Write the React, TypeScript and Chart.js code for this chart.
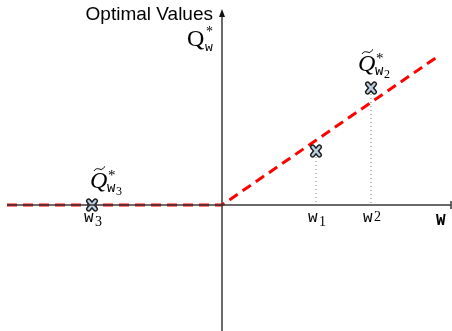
import React, { useEffect, useRef } from "react";
import { Chart, registerables } from "chart.js";

Chart.register(...registerables);

// Data (arbitrary units: w on x, optimal value Q on y)
const lineW = [-2.15, 0, 2.15];
const lineQ = [0, 0, 1.48];
const pointNames = ["w1", "w2", "w3"];
const pointW = [0.94, 1.49, -1.3];
const pointQ = [0.54, 1.17, 0];
const xRange = [-2.22, 2.3];
const yRange = [-1.26, 2.05];

function makeMarker(): HTMLCanvasElement {
  const c = document.createElement("canvas");
  c.width = 14;
  c.height = 14;
  const g = c.getContext("2d")!;
  const d = 3.4;
  const cx = 7, cy = 7;
  const path = () => {
    g.beginPath();
    g.moveTo(cx - d, cy - d - 0.6);
    g.lineTo(cx + d, cy + d + 0.6);
    g.moveTo(cx + d, cy - d - 0.6);
    g.lineTo(cx - d, cy + d + 0.6);
  };
  g.lineCap = "round";
  g.strokeStyle = "#1a1a1a";
  g.lineWidth = 5.2;
  path();
  g.stroke();
  g.strokeStyle = "#bcd0e2";
  g.lineWidth = 2.4;
  path();
  g.stroke();
  return c;
}

const annotate = {
  id: "annotate",
  afterDatasetsDraw(chart: any) {
    const ctx = chart.ctx as CanvasRenderingContext2D;
    const xs = chart.scales.x;
    const ys = chart.scales.y;
    const x0 = xs.getPixelForValue(0);
    const y0 = ys.getPixelForValue(0);
    ctx.save();
    // axes
    ctx.strokeStyle = "#3a3a3a";
    ctx.lineWidth = 1.5;
    ctx.beginPath();
    ctx.moveTo(7, y0);
    ctx.lineTo(451, y0);
    ctx.moveTo(451, y0 - 4);
    ctx.lineTo(451, y0 + 4);
    ctx.moveTo(x0, 331);
    ctx.lineTo(x0, 14);
    ctx.stroke();
    ctx.fillStyle = "#111";
    ctx.beginPath();
    ctx.moveTo(x0, 9);
    ctx.lineTo(x0 - 3, 17);
    ctx.lineTo(x0 + 3, 17);
    ctx.closePath();
    ctx.fill();

    // y axis title
    ctx.fillStyle = "#000";
    ctx.textBaseline = "alphabetic";
    ctx.textAlign = "right";
    ctx.font = '19px "Liberation Sans", Arial, sans-serif';
    ctx.fillText("Optimal Values", 213, 20);
    ctx.textAlign = "left";
    ctx.font = '24px "Liberation Serif", serif';
    ctx.fillText("Q", 187, 46);
    ctx.font = '14px "Liberation Serif", serif';
    ctx.fillText("*", 206, 36);
    ctx.font = '13px "Liberation Mono", monospace';
    ctx.fillText("w", 205, 51);

    // x axis label
    ctx.font = 'bold 16px "Liberation Mono", monospace';
    ctx.fillText("W", 436, 225);

    // tick labels for the w points
    pointNames.forEach((n, i) => {
      const px = xs.getPixelForValue(pointW[i]);
      ctx.font = '16px "Liberation Mono", monospace';
      ctx.fillText("w", px - 8, 222);
      ctx.font = '14px "Liberation Serif", serif';
      ctx.fillText(n.slice(1), px + 3, i === 1 ? 221 : 226);
    });

    // Q tilde labels
    const qLabel = (name: string, px: number, baseline: number) => {
      ctx.font = 'italic 24px "Liberation Serif", serif';
      ctx.fillText("Q", px, baseline);
      ctx.strokeStyle = "#000";
      ctx.lineWidth = 1;
      ctx.beginPath();
      ctx.moveTo(px + 4, baseline - 17);
      ctx.bezierCurveTo(px + 7, baseline - 22, px + 11, baseline - 17, px + 12.5, baseline - 19);
      ctx.bezierCurveTo(px + 13.5, baseline - 20, px + 14, baseline - 21, px + 15, baseline - 21.5);
      ctx.stroke();
      ctx.font = '15px "Liberation Serif", serif';
      ctx.fillText("*", px + 18, baseline - 8);
      ctx.font = '14px "Liberation Mono", monospace';
      ctx.fillText("w", px + 17, baseline + 4);
      ctx.font = '12px "Liberation Serif", serif';
      ctx.fillText(name, px + 26, baseline + 7);
    };
    qLabel("2", xs.getPixelForValue(pointW[1]) - 13, ys.getPixelForValue(pointQ[1]) - 17);
    qLabel("3", xs.getPixelForValue(pointW[2]) - 2, ys.getPixelForValue(pointQ[2]) - 17);
    ctx.restore();
  },
};

export default function App() {
  const ref = useRef<HTMLCanvasElement>(null);
  useEffect(() => {
    const marker = makeMarker();
    const dotted = pointW.slice(0, 2).map((w, i) => ({
      type: "line" as const,
      data: [
        { x: w, y: pointQ[i] - 0.06 },
        { x: w, y: 0 },
      ],
      borderColor: "#777",
      borderWidth: 1,
      borderDash: [1, 3],
      pointRadius: 0,
      order: 3,
    }));
    const chart = new Chart(ref.current!, {
      type: "scatter",
      data: {
        datasets: [
          ...dotted,
          {
            type: "line",
            data: lineW.map((w, i) => ({ x: w, y: lineQ[i] })),
            borderColor: "#ff0000",
            borderWidth: 3,
            borderDash: [10, 6],
            pointRadius: 0,
            order: 2,
          } as any,
          {
            type: "scatter",
            data: pointW.map((w, i) => ({ x: w, y: pointQ[i] })),
            pointStyle: marker,
            order: 1,
          } as any,
        ],
      },
      options: {
        animation: false,
        responsive: true,
        maintainAspectRatio: false,
        layout: { padding: 0, autoPadding: false },
        plugins: { legend: { display: false }, tooltip: { enabled: false } },
        scales: {
          x: { type: "linear", min: xRange[0], max: xRange[1], display: false },
          y: { type: "linear", min: yRange[0], max: yRange[1], display: false },
        },
      },
      plugins: [annotate],
    });
    return () => chart.destroy();
  }, []);
  return (
    <div style={{ position: "absolute", left: 0, top: 0, width: 452, height: 331, background: "#fff" }}>
      <canvas ref={ref} />
    </div>
  );
}
